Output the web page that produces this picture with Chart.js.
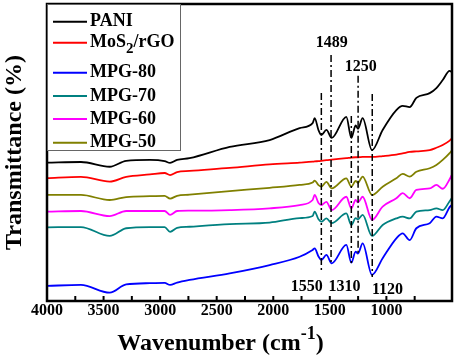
<!DOCTYPE html>
<html>
<head>
<meta charset="utf-8">
<title>FTIR spectra</title>
<script src="https://cdn.jsdelivr.net/npm/chart.js@4.4.0/dist/chart.umd.min.js"></script>
<style>
  body { margin: 0; background: #fff; }
  canvas { display: block; }
</style>
</head>
<body>
<canvas id="ftir" width="459" height="361"></canvas>
<script>
var wavenumbers = [4000, 3700, 3446, 3300, 3090, 2960, 2912, 2850, 2740, 2385, 2032, 1767, 1652, 1634, 1600, 1575, 1530, 1484, 1354, 1310, 1272, 1251, 1210, 1127, 1033, 912, 856, 794, 735, 617, 558, 502, 441, 423];

// transmittance (a.u., curves are offset)
var tPANI  = [46.6, 46.8, 45.2, 47.2, 47.5, 47.1, 46.5, 47.5, 48.1, 51.9, 54.2, 58.2, 59.9, 61.6, 57.5, 55.9, 57.6, 54.9, 62.0, 54.9, 59.1, 58.0, 61.6, 50.8, 57.6, 64.3, 65.7, 65.3, 68.4, 70.0, 71.7, 74.4, 77.5, 77.1];
var tMoS2  = [41.4, 41.8, 40.2, 41.8, 42.6, 43.1, 42.4, 43.4, 43.8, 44.8, 46.0, 46.6, 46.9, 47.0, 47.1, 47.2, 47.4, 47.6, 48.1, 48.3, 48.4, 48.4, 48.5, 48.5, 48.8, 49.3, 49.7, 50.2, 50.4, 50.8, 51.6, 52.5, 54.0, 54.7];
var tMPG80 = [5.1, 5.4, 2.8, 5.6, 6.0, 6.1, 5.4, 6.2, 7.1, 9.3, 12.1, 14.9, 17.2, 17.7, 15.0, 13.8, 15.5, 12.7, 18.9, 12.9, 16.6, 16.0, 19.4, 8.8, 14.4, 21.1, 22.8, 20.5, 24.5, 26.2, 28.4, 27.8, 31.6, 32.3];
var tMPG70 = [24.8, 24.9, 21.9, 24.5, 24.9, 24.9, 23.3, 24.6, 25.0, 25.9, 26.4, 27.9, 28.6, 30.1, 27.5, 26.7, 27.8, 26.2, 29.5, 25.6, 27.9, 27.5, 29.0, 21.9, 25.6, 27.8, 28.4, 27.8, 30.1, 30.6, 31.2, 30.6, 33.6, 34.6];
var tMPG60 = [30.1, 30.3, 28.6, 30.3, 30.3, 30.3, 29.0, 30.3, 30.4, 30.6, 31.2, 32.3, 34.0, 35.7, 33.0, 32.3, 33.4, 30.6, 35.1, 31.2, 34.0, 33.2, 35.1, 27.3, 31.8, 34.6, 36.3, 34.6, 37.4, 37.9, 39.1, 37.8, 41.0, 42.4];
var tMPG50 = [35.7, 35.7, 34.0, 35.0, 35.3, 35.4, 34.5, 35.4, 35.8, 37.0, 38.1, 39.1, 39.9, 40.5, 39.0, 38.5, 40.1, 37.9, 41.3, 38.5, 40.4, 39.8, 41.9, 35.7, 38.5, 41.3, 42.8, 41.9, 43.5, 44.7, 45.8, 47.5, 49.8, 50.6];

var seriesNames = ['PANI', 'MoS2/rGO', 'MPG-80', 'MPG-70', 'MPG-60', 'MPG-50'];
var seriesColors = ['#000000', '#ff0000', '#0000ff', '#008080', '#ff00ff', '#808000'];
var seriesValues = [tPANI, tMoS2, tMPG80, tMPG70, tMPG60, tMPG50];

// marked bands: where the dash-dot line sits, its label, and how far it reaches
var bandPos   = [1575, 1489, 1310, 1250, 1125];
var bandLabel = ['1550', '1489', '1310', '1250', '1120'];
var bandTop   = [70.0, 82.8, 62.3, 75.8, 69.7];
var bandBot   = [10.4, 12.1, 12.8, 16.2, 8.1];
// label anchors (wavenumber, transmittance)
var labelX = [1705, 1484, 1370, 1227, 990];
var labelY = [4.7, 86.9, 4.7, 78.8, 3.7];

var serif = '"Liberation Serif", "Times New Roman", serif';
Chart.defaults.font.family = serif;
Chart.defaults.color = '#000';

function toPoints(vals) {
  return wavenumbers.map(function (w, i) { return { x: w, y: vals[i] }; });
}

var datasets = seriesNames.map(function (name, i) {
  return {
    label: name,
    data: toPoints(seriesValues[i]),
    borderColor: seriesColors[i],
    borderWidth: 1.8,
    pointRadius: 0,
    cubicInterpolationMode: 'monotone',
    fill: false
  };
});

// frame, inner ticks, legend box, band lines and the x title
var extras = {
  id: 'extras',
  afterDraw: function (chart) {
    var ctx = chart.ctx;
    var a = chart.chartArea;
    var xs = chart.scales.x, ys = chart.scales.y;
    ctx.save();

    // inner ticks on the bottom axis
    ctx.strokeStyle = '#000';
    ctx.lineWidth = 2;
    xs.ticks.forEach(function (t) {
      if (t.value >= 4000) return;
      var px = xs.getPixelForValue(t.value);
      ctx.beginPath();
      ctx.moveTo(px, a.bottom);
      ctx.lineTo(px, a.bottom - 5);
      ctx.stroke();
    });

    // frame
    ctx.lineWidth = 2.5;
    ctx.strokeRect(a.left, a.top, a.right - a.left, a.bottom - a.top);

    // dash-dot band lines
    ctx.lineWidth = 1.5;
    ctx.setLineDash([7, 3, 2, 3]);
    bandPos.forEach(function (w, i) {
      var px = xs.getPixelForValue(w);
      ctx.beginPath();
      ctx.moveTo(px, ys.getPixelForValue(bandTop[i]));
      ctx.lineTo(px, ys.getPixelForValue(bandBot[i]));
      ctx.stroke();
    });
    ctx.setLineDash([]);

    ctx.font = 'bold 16px ' + serif;
    ctx.fillStyle = '#000';
    ctx.textAlign = 'center';
    ctx.textBaseline = 'middle';
    bandLabel.forEach(function (txt, i) {
      ctx.fillText(txt, xs.getPixelForValue(labelX[i]), ys.getPixelForValue(labelY[i]));
    });

    // legend
    var bx = a.left, by = a.top;
    ctx.fillStyle = '#fff';
    ctx.fillRect(bx, by, 133, 146);
    ctx.strokeStyle = '#666';
    ctx.lineWidth = 1;
    ctx.strokeRect(bx + 0.5, by + 0.5, 133, 146);
    var rowY = [17.7, 38.7, 68.7, 92, 115, 138.7];
    ctx.textAlign = 'left';
    seriesNames.forEach(function (name, i) {
      var y = by + rowY[i];
      ctx.strokeStyle = seriesColors[i];
      ctx.lineWidth = 2;
      ctx.beginPath();
      ctx.moveTo(bx + 6, y);
      ctx.lineTo(bx + 40, y);
      ctx.stroke();
      ctx.fillStyle = '#000';
      ctx.font = 'bold 18px ' + serif;
      var tx = bx + 43;
      if (name === 'MoS2/rGO') {
        ctx.fillText('MoS', tx, y);
        tx += ctx.measureText('MoS').width;
        ctx.font = 'bold 15px ' + serif;
        ctx.fillText('2', tx, y + 6);
        tx += ctx.measureText('2').width;
        ctx.font = 'bold 18px ' + serif;
        ctx.fillText('/rGO', tx, y);
      } else {
        ctx.fillText(name, tx, y);
      }
    });

    // x title with superscript
    ctx.font = 'bold 24px ' + serif;
    var main = 'Wavenumber (cm';
    var mw = ctx.measureText(main).width;
    ctx.font = 'bold 18px ' + serif;
    var sw = ctx.measureText('-1').width;
    ctx.font = 'bold 24px ' + serif;
    var cw = ctx.measureText(')').width;
    var sx = (a.left + a.right) / 2 - 29 - (mw + sw + cw) / 2;
    var ty = 344;
    ctx.textBaseline = 'middle';
    ctx.fillText(main, sx, ty);
    ctx.font = 'bold 18px ' + serif;
    ctx.fillText('-1', sx + mw, ty - 10);
    ctx.font = 'bold 24px ' + serif;
    ctx.fillText(')', sx + mw + sw, ty);

    ctx.restore();
  }
};

new Chart(document.getElementById('ftir'), {
  type: 'line',
  data: { datasets: datasets },
  options: {
    responsive: false,
    animation: false,
    devicePixelRatio: 1,
    layout: { padding: { top: 4, right: 7, left: 0, bottom: 0 } },
    plugins: { legend: { display: false }, tooltip: { enabled: false } },
    scales: {
      x: {
        type: 'linear',
        reverse: true,
        min: 420,
        max: 4000,
        grid: { display: false, drawTicks: false },
        border: { display: false },
        afterBuildTicks: function (scale) {
          scale.ticks = scale.ticks.filter(function (t) { return t.value % 250 === 0; });
        },
        afterFit: function (scale) { scale.height = 60; },
        ticks: {
          stepSize: 250,
          padding: 0,
          autoSkip: false,
          maxRotation: 0,
          font: { size: 16, weight: 'bold' },
          callback: function (v) { return v % 500 === 0 ? v : ''; }
        }
      },
      y: {
        min: 0,
        max: 100,
        grid: { display: false, drawTicks: false },
        border: { display: false },
        ticks: { display: false },
        afterFit: function (scale) { scale.width = 47; },
        title: {
          display: true,
          text: 'Transmittance (%)',
          font: { size: 24, weight: 'bold' },
          padding: { top: 0, bottom: 0 }
        }
      }
    }
  },
  plugins: [extras]
});
</script>
</body>
</html>
